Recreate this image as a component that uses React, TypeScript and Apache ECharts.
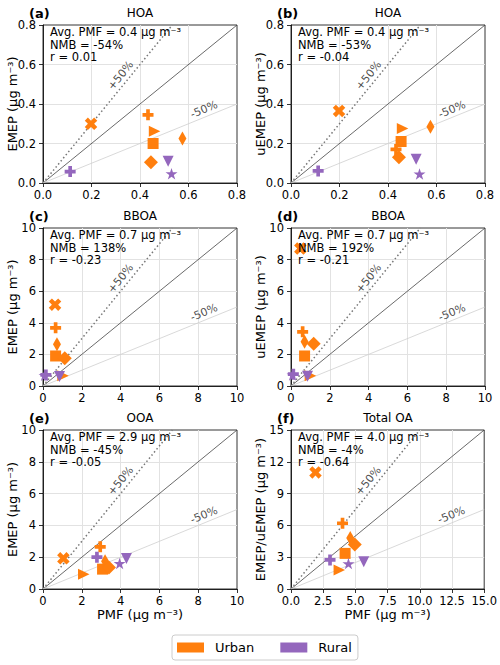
import React, { useEffect, useRef } from 'react';
import * as echarts from 'echarts';

// Sites: 6 urban, 3 rural, each with its own marker
const siteGroup = ['Urban', 'Urban', 'Urban', 'Urban', 'Urban', 'Urban', 'Rural', 'Rural', 'Rural'];
const siteMarker = ['X', 'P', '>', 's', 'd', 'D', 'P', 'v', '*'];

// HOA (µg m-3)
const hoaPmf = [0.198, 0.433, 0.46, 0.454, 0.575, 0.445, 0.112, 0.516, 0.53];
const hoaEmep = [0.30, 0.345, 0.262, 0.20, 0.225, 0.105, 0.058, 0.11, 0.047];
const hoaUemep = [0.365, 0.17, 0.276, 0.21, 0.285, 0.13, 0.061, 0.12, 0.046];

// BBOA (µg m-3)
const bboaPmfEmep = [0.62, 0.65, 1.03, 0.65, 0.72, 1.12, 0.15, 0.85, 0.08];
const bboaEmep = [5.15, 3.68, 0.65, 1.9, 2.65, 1.75, 0.7, 0.6, 0.68];
const bboaPmfUemep = [0.48, 0.6, 1.0, 0.7, 0.7, 1.17, 0.12, 0.85, 0.08];
const bboaUemep = [8.7, 3.43, 0.65, 1.9, 2.8, 2.68, 0.75, 0.62, 0.7];

// OOA (µg m-3)
const ooaPmf = [1.05, 2.95, 2.1, 3.07, 3.2, 3.4, 2.78, 4.3, 3.95];
const ooaEmep = [1.93, 2.65, 0.92, 1.25, 1.75, 1.35, 2.0, 1.92, 1.61];

// Total OA (µg m-3)
const totalPmf = [1.9, 4.0, 3.75, 4.2, 4.6, 4.95, 3.03, 5.65, 4.46];
const totalModel = [11.0, 6.2, 1.8, 3.36, 4.8, 4.2, 2.74, 2.58, 2.4];

// Panel texts
const panelTags = ['(a)', '(b)', '(c)', '(d)', '(e)', '(f)'];
const panelTitles = ['HOA', 'HOA', 'BBOA', 'BBOA', 'OOA', 'Total OA'];
const yNames = ['EMEP', 'uEMEP', 'EMEP', 'uEMEP', 'EMEP', 'EMEP/uEMEP'];
const avgPmf = ['0.4', '0.4', '0.7', '0.7', '2.9', '4.0'];
const nmb = ['-54%', '-53%', '138%', '192%', '-45%', '-4%'];
const rCoef = ['0.01', '-0.04', '-0.23', '-0.21', '-0.05', '-0.64'];

// Axis ranges and tick steps
const axisMax = [0.8, 0.8, 10, 10, 10, 15];
const xStep = [0.2, 0.2, 2, 2, 2, 2.5];
const yStep = [0.2, 0.2, 2, 2, 2, 3];
const xDecimals = [1, 1, 0, 0, 0, 1];
const yDecimals = [1, 1, 0, 0, 0, 0];

const panelX = [hoaPmf, hoaPmf, bboaPmfEmep, bboaPmfUemep, ooaPmf, totalPmf];
const panelY = [hoaEmep, hoaUemep, bboaEmep, bboaUemep, ooaEmep, totalModel];

// Layout (pixels)
const gridLeft = [43, 291, 43, 291, 43, 291];
const gridTop = [25, 25, 228, 228, 430, 430];
const gridW = 194;
const gridH = [158, 158, 158, 158, 159, 159];

const FONT = 'DejaVu Sans';
const groupColor: Record<string, string> = { Urban: '#ff7f0e', Rural: '#9467bd' };

const markerShapes: Record<string, { symbol: string; size: number[] }> = {
  X: { symbol: 'path://M3 0L2 1L1 0L0 1L1 2L0 3L1 4L2 3L3 4L4 3L3 2L4 1Z', size: [12.5, 12.5] },
  P: { symbol: 'path://M2 0L4 0L4 2L6 2L6 4L4 4L4 6L2 6L2 4L0 4L0 2L2 2Z', size: [11, 11] },
  '>': { symbol: 'path://M0 0L2 1L0 2Z', size: [11.5, 11] },
  s: { symbol: 'rect', size: [11, 11] },
  d: { symbol: 'diamond', size: [8, 14] },
  D: { symbol: 'diamond', size: [14, 14] },
  v: { symbol: 'path://M0 0L2 0L1 2Z', size: [11, 11] },
  '*': {
    symbol:
      'path://M100 0L122.45 69.1L195.1 69.1L136.3 111.8L158.8 180.9L100 138.2L41.2 180.9L63.7 111.8L4.9 69.1L77.55 69.1Z',
    size: [12, 11.5],
  },
};

function buildOption() {
  const grids: any[] = [];
  const xAxes: any[] = [];
  const yAxes: any[] = [];
  const series: any[] = [];
  const graphics: any[] = [];

  for (let i = 0; i < 6; i++) {
    const max = axisMax[i];
    grids.push({
      left: gridLeft[i],
      top: gridTop[i],
      width: gridW,
      height: gridH[i],
      show: true,
      borderColor: '#000',
      borderWidth: 0.8,
      backgroundColor: 'transparent',
    });

    const common = {
      gridIndex: i,
      type: 'value',
      min: 0,
      max,
      axisLine: { show: true, onZero: false, lineStyle: { color: '#000', width: 0.8 } },
      axisTick: { show: true, inside: false, length: 4, lineStyle: { color: '#000', width: 0.8 } },
      splitLine: {
        show: true,
        showMinLine: false,
        showMaxLine: false,
        lineStyle: { color: '#e2e2e2', width: 1 },
      },
      nameLocation: 'middle',
      nameMoveOverlap: false,
      nameTextStyle: { fontSize: 13, fontFamily: FONT, color: '#000' },
    };

    const xd = xDecimals[i];
    const yd = yDecimals[i];
    xAxes.push({
      ...common,
      interval: xStep[i],
      axisLabel: {
        fontSize: 11.5,
        fontFamily: FONT,
        color: '#000',
        margin: 6,
        hideOverlap: false,
        formatter: (v: number) => v.toFixed(xd),
      },
      name: i >= 4 ? 'PMF (μg m⁻³)' : '',
      nameGap: 19,
    });
    yAxes.push({
      ...common,
      interval: yStep[i],
      axisLabel: {
        fontSize: 11.5,
        fontFamily: FONT,
        color: '#000',
        margin: 7,
        hideOverlap: false,
        formatter: (v: number) => v.toFixed(yd),
      },
      name: yNames[i] + ' (μg m⁻³)',
      nameRotate: 90,
      nameGap: 24,
    });

    // 1:1, +50 % and -50 % reference lines
    series.push({
      type: 'line',
      xAxisIndex: i,
      yAxisIndex: i,
      data: [[0, 0], [max, max]],
      symbol: 'none',
      silent: true,
      lineStyle: { color: '#444', width: 0.8 },
      z: 1,
    });
    series.push({
      type: 'line',
      xAxisIndex: i,
      yAxisIndex: i,
      data: [[0, 0], [max / 1.5, max]],
      symbol: 'none',
      silent: true,
      lineStyle: { color: '#777', width: 1.5, type: [1.5, 2.5] },
      z: 1,
    });
    series.push({
      type: 'line',
      xAxisIndex: i,
      yAxisIndex: i,
      data: [[0, 0], [max, max / 2]],
      symbol: 'none',
      silent: true,
      lineStyle: { color: '#cfcfcf', width: 0.8 },
      z: 1,
    });

    // Line labels
    const lineLabel = (val: number[], text: string, rot: number) => ({
      type: 'scatter',
      xAxisIndex: i,
      yAxisIndex: i,
      silent: true,
      symbol: 'circle',
      symbolSize: 1,
      itemStyle: { color: 'transparent' },
      data: [val],
      label: {
        show: true,
        position: 'inside',
        rotate: rot,
        formatter: text,
        fontSize: 11,
        fontFamily: FONT,
        color: '#222',
      },
      z: 2,
    });
    series.push(lineLabel([0.4 * max, 0.68 * max], '+50%', 50.7));
    series.push(lineLabel([0.83 * max, 0.465 * max], '-50%', 22.2));

    // Site markers
    const xs = panelX[i];
    const ys = panelY[i];
    for (let k = 0; k < xs.length; k++) {
      const m = markerShapes[siteMarker[k]];
      series.push({
        type: 'scatter',
        name: siteGroup[k],
        xAxisIndex: i,
        yAxisIndex: i,
        symbol: m.symbol,
        symbolSize: m.size,
        itemStyle: { color: groupColor[siteGroup[k]], opacity: 1 },
        data: [[xs[k], ys[k]]],
        z: 3,
      });
    }

    // Panel tag, title and statistics
    const titleY = gridTop[i] - 12;
    graphics.push({
      type: 'text',
      x: gridLeft[i] - 14,
      y: titleY,
      style: {
        text: panelTags[i],
        font: `bold 13px "${FONT}"`,
        fill: '#000',
        align: 'left',
        verticalAlign: 'middle',
      },
    });
    graphics.push({
      type: 'text',
      x: gridLeft[i] + gridW / 2,
      y: titleY,
      style: {
        text: panelTitles[i],
        font: `12px "${FONT}"`,
        fill: '#000',
        align: 'center',
        verticalAlign: 'middle',
      },
    });
    graphics.push({
      type: 'text',
      x: gridLeft[i] + 7,
      y: gridTop[i] + 1,
      z: 10,
      style: {
        text: `Avg. PMF = ${avgPmf[i]} μg m⁻³\nNMB = ${nmb[i]}\nr = ${rCoef[i]}`,
        font: `11.5px "${FONT}"`,
        lineHeight: 12.5,
        fill: '#000',
        align: 'left',
        verticalAlign: 'top',
      },
    });
  }

  return {
    animation: false,
    backgroundColor: '#fff',
    grid: grids,
    xAxis: xAxes,
    yAxis: yAxes,
    series,
    graphic: graphics,
    legend: {
      data: ['Urban', 'Rural'],
      left: 172,
      top: 635,
      orient: 'horizontal',
      icon: 'rect',
      itemWidth: 27,
      itemHeight: 10,
      itemGap: 26,
      padding: [6, 6, 6, 5],
      borderColor: '#cccccc',
      borderWidth: 1,
      borderRadius: 3,
      backgroundColor: '#fff',
      selectedMode: false,
      textStyle: { fontSize: 13, fontFamily: FONT, color: '#000', padding: [0, 0, 0, 6] },
    },
  };
}

export default function App() {
  const ref = useRef<HTMLDivElement>(null);
  useEffect(() => {
    if (!ref.current) return;
    const chart = echarts.init(ref.current, undefined, { renderer: 'svg' });
    chart.setOption(buildOption() as any);
    return () => chart.dispose();
  }, []);
  return (
    <div
      ref={ref}
      style={{ position: 'absolute', left: 0, top: 0, width: 500, height: 665, background: '#fff' }}
    />
  );
}
